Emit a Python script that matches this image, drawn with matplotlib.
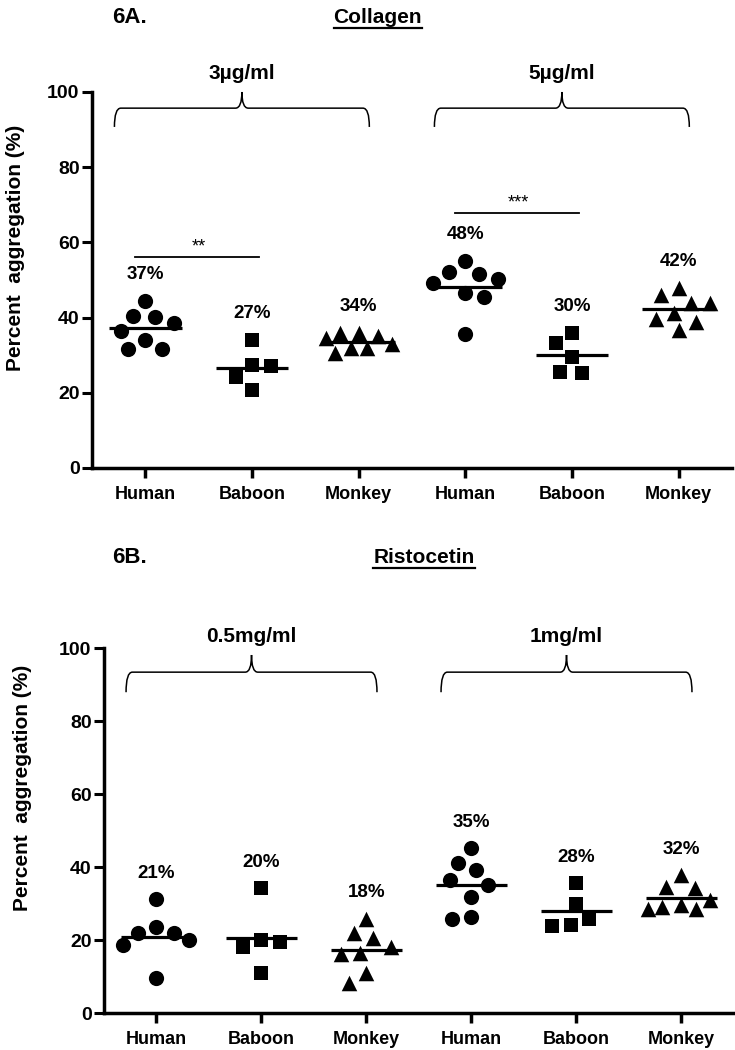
import numpy as np
import matplotlib
matplotlib.use("Agg")
import matplotlib.pyplot as plt
from matplotlib.path import Path
from matplotlib.patches import PathPatch

plt.rcParams['font.family'] = ['Liberation Sans', 'DejaVu Sans']
plt.rcParams['font.weight'] = 'bold'

species = ["Human", "Baboon", "Monkey", "Human", "Baboon", "Monkey"]

# 6A collagen (3 then 5 ug/ml)
col_human_3 = [44.5, 40.5, 40.1, 38.5, 36.5, 34.0, 31.6, 31.6]
col_baboon_3 = [34.0, 27.4, 27.1, 24.3, 20.7]
col_monkey_3 = [36.0, 36.0, 35.0, 34.5, 33.0, 32.0, 32.0, 30.5]
col_human_5 = [55.1, 52.2, 51.6, 50.2, 49.1, 46.6, 45.6, 35.6]
col_baboon_5 = [36.0, 33.2, 29.6, 25.6, 25.2]
col_monkey_5 = [47.8, 46.0, 43.8, 43.8, 41.3, 39.6, 38.9, 36.7]
col_labels = ["37%", "27%", "34%", "48%", "30%", "42%"]
col_doses = ["3µg/ml", "5µg/ml"]
col_sig = [(0, 1, "**", 56.0), (3, 4, "***", 67.7)]

# 6B ristocetin (0.5 then 1 mg/ml)
ris_human_05 = [31.2, 23.5, 21.8, 21.8, 20.0, 18.6, 9.5]
ris_baboon_05 = [34.2, 20.0, 19.5, 18.2, 10.9]
ris_monkey_05 = [25.9, 21.8, 20.5, 18.2, 16.5, 16.2, 10.9, 8.3]
ris_human_1 = [45.1, 41.2, 39.2, 36.4, 35.1, 31.7, 26.2, 25.9]
ris_baboon_1 = [35.7, 29.9, 25.9, 24.1, 23.8]
ris_monkey_1 = [37.8, 34.4, 34.2, 31.0, 29.6, 29.1, 28.4, 28.4]
ris_labels = ["21%", "20%", "18%", "35%", "28%", "32%"]
ris_doses = ["0.5mg/ml", "1mg/ml"]

markers = ["o", "s", "^", "o", "s", "^"]
msizes = [120, 105, 125, 120, 105, 125]


def swarm(ax, center, vals, d=19.0, half=33):
    # small beeswarm in pixel space, kept within +-half px of the group centre
    t = ax.transData
    cx = t.transform((center, 0))[0]
    placed = []
    xs = np.zeros(len(vals))
    order = np.argsort(vals)[::-1]
    grid = np.arange(-half, half + 1, 1.0)
    for n, i in enumerate(order):
        ypx = t.transform((center, vals[i]))[1]
        sign = -1 if n % 2 else 1
        cands = sorted(grid, key=lambda c: (abs(c), -sign * c))
        best, best_d = 0.0, -1
        for c in cands:
            md = min([np.hypot(cx + c - px, ypx - py) for px, py in placed] or [1e9])
            if md >= d:
                best = c
                break
            if md > best_d + 0.5:
                best, best_d = c, md
        placed.append((cx + best, ypx))
        xs[i] = t.inverted().transform((cx + best, ypx))[0]
    return xs


def brace(ax, x0, x1, y, drop, rise, rx=0.06):
    xm = (x0 + x1) / 2
    verts = [(x0, y - drop), (x0, y), (x0 + rx, y), (xm - rx, y), (xm, y), (xm, y + rise),
             (xm, y), (xm + rx, y), (x1 - rx, y), (x1, y), (x1, y - drop)]
    codes = [Path.MOVETO, Path.CURVE3, Path.CURVE3, Path.LINETO, Path.CURVE3, Path.CURVE3,
             Path.CURVE3, Path.CURVE3, Path.LINETO, Path.CURVE3, Path.CURVE3]
    ax.add_patch(PathPatch(Path(verts, codes), fc='none', ec='black', lw=1.1, clip_on=False))


def panel(ax, groups, labels, doses, sig, brace_y, label_xy):
    ax.set_xlim(-0.5, 5.5)
    ax.set_ylim(0, 100)
    for i, vals in enumerate(groups):
        vals = np.array(vals)
        xs = swarm(ax, i, vals)
        ax.scatter(xs, vals, marker=markers[i], s=msizes[i], color='black', zorder=3, linewidths=0)
        ax.hlines(vals.mean(), i - 0.34, i + 0.34, color='black', lw=2.3, zorder=4)
        ax.text(i, vals.max() + 7, labels[i], ha='center', va='center', fontsize=13.5, fontweight='bold')
    for a, b, stars, y in sig:
        ax.plot([a - 0.1, b + 0.07], [y, y], color='black', lw=1.3)
        ax.text((a + b) / 2, y + 0.6, stars, ha='center', va='bottom', fontsize=13, fontweight='normal')
    for k, dose in enumerate(doses):
        x0, x1 = 3 * k - 0.29, 3 * k + 2.1
        brace(ax, x0, x1, brace_y[0], brace_y[1], brace_y[2])
        ax.text((x0 + x1) / 2, brace_y[0] + brace_y[2] + 2.5, dose, ha='center', va='bottom',
                fontsize=15, fontweight='bold', clip_on=False)
    ax.set_xticks(range(len(species)))
    ax.set_xticklabels(species, fontsize=13, fontweight='bold')
    ax.set_yticks(range(0, 101, 20))
    ax.tick_params(axis='y', labelsize=14, width=2.2, length=7, pad=2)
    ax.tick_params(axis='x', width=2.5, length=7, pad=6)
    for s in ['top', 'right']:
        ax.spines[s].set_visible(False)
    for s in ['left', 'bottom']:
        ax.spines[s].set_linewidth(2.5)
    ax.set_ylabel("Percent  aggregation (%)", fontsize=15, fontweight='bold')
    ax.yaxis.set_label_coords(*label_xy)


fig = plt.figure(figsize=(7.35, 10.5), dpi=100)
ax1 = fig.add_axes([0.1252, 0.5543, 0.8707, 0.3581])
ax2 = fig.add_axes([0.1415, 0.0352, 0.8571, 0.3476])

panel(ax1, [col_human_3, col_baboon_3, col_monkey_3, col_human_5, col_baboon_5, col_monkey_5],
      col_labels, col_doses, col_sig, (95.7, 5.0, 4.3), (-0.105, 0.586))
panel(ax2, [ris_human_05, ris_baboon_05, ris_monkey_05, ris_human_1, ris_baboon_1, ris_monkey_1],
      ris_labels, ris_doses, [], (93.4, 5.5, 4.7), (-0.114, 0.616))

fig.text(0.152, 0.983, "6A.", fontsize=16, fontweight='bold', va='center')
t1 = fig.text(0.514, 0.983, "Collagen", fontsize=15, fontweight='bold', va='center', ha='center')
fig.text(0.152, 0.4695, "6B.", fontsize=16, fontweight='bold', va='center')
t2 = fig.text(0.577, 0.4695, "Ristocetin", fontsize=15, fontweight='bold', va='center', ha='center')

fig.canvas.draw()
for t in (t1, t2):
    bb = t.get_window_extent().transformed(fig.transFigure.inverted())
    fig.add_artist(plt.Line2D([bb.x0, bb.x1], [bb.y0 - 0.001, bb.y0 - 0.001], color='black', lw=1.6,
                              transform=fig.transFigure))

fig.savefig("out.png", dpi=100)
